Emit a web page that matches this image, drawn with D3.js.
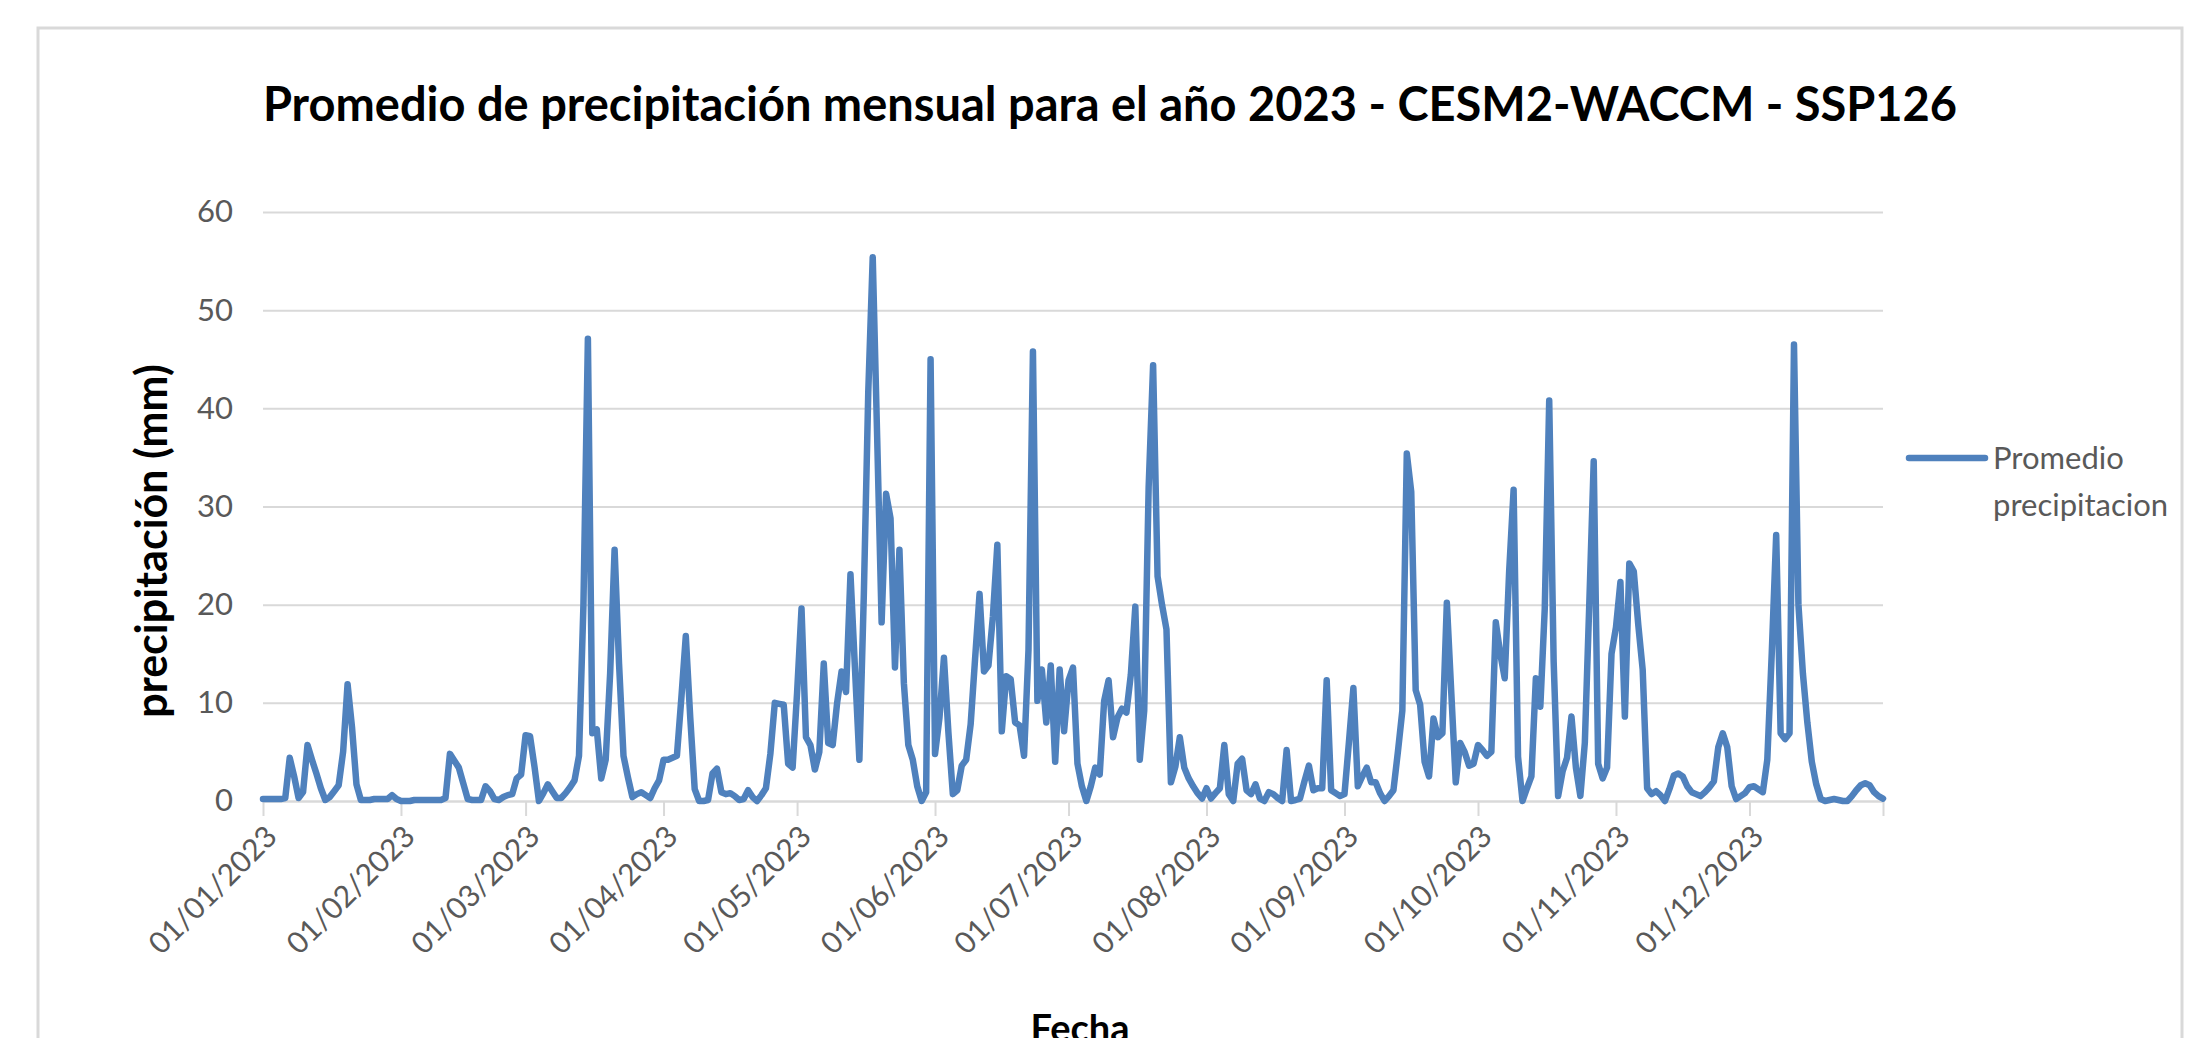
<!DOCTYPE html>
<html>
<head>
<meta charset="utf-8">
<script src="https://cdn.jsdelivr.net/npm/d3@7"></script>
<style>
	body { margin: 0; background: #fff; }
	text { font-family: Lato, "Open Sans", sans-serif; }
</style>
</head>
<body>
<svg id="chart"></svg>
<script>
// daily average precipitation (mm), one array per month of 2023
const jan = [0.2, 0.2, 0.2, 0.2, 0.2, 0.3, 4.4, 2.5, 0.3, 0.9, 5.7, 4.2, 2.8, 1.3, 0.1, 0.4, 1.0, 1.6, 5.0, 11.9, 7.5, 1.7, 0.1, 0.1, 0.1, 0.2, 0.2, 0.2, 0.2, 0.6, 0.2];
const feb = [0.0, 0.0, 0.0, 0.1, 0.1, 0.1, 0.1, 0.1, 0.1, 0.1, 0.3, 4.8, 4.1, 3.4, 1.8, 0.2, 0.1, 0.1, 0.1, 1.5, 1.0, 0.2, 0.1, 0.4, 0.6, 0.7, 2.3, 2.7];
const mar = [6.7, 6.6, 3.5, 0.0, 0.8, 1.7, 1.0, 0.3, 0.3, 0.8, 1.4, 2.1, 4.6, 20, 47.1, 6.9, 7.3, 2.3, 4.2, 13, 25.6, 14, 4.6, 2.4, 0.4, 0.7, 0.9, 0.6, 0.3, 1.3, 2.1];
const apr = [4.2, 4.2, 4.4, 4.6, 10.5, 16.8, 8.5, 1.2, 0.0, 0.0, 0.1, 2.8, 3.3, 0.9, 0.7, 0.8, 0.5, 0.1, 0.2, 1.1, 0.4, 0.0, 0.6, 1.3, 4.8, 10.0, 9.9, 9.8, 3.8, 3.4];
const may = [11, 19.6, 6.5, 5.7, 3.2, 5.0, 14.0, 5.9, 5.7, 10.0, 13.2, 11.1, 23.1, 13.6, 4.2, 21, 41.7, 55.4, 37, 18.2, 31.3, 28.8, 13.6, 25.6, 12, 5.7, 4.2, 1.5, 0.0, 0.9, 45.0];
const jun = [4.8, 8.5, 14.6, 7, 0.7, 1.1, 3.6, 4.2, 7.8, 14.5, 21.1, 13.2, 13.8, 18.8, 26.1, 7.1, 12.7, 12.4, 8.0, 7.7, 4.6, 15.4, 45.8, 10.2, 13.4, 8.0, 13.8, 4.0, 13.4, 7.1];
const jul = [12.3, 13.6, 3.8, 1.5, 0.0, 1.5, 3.4, 2.7, 10.2, 12.3, 6.5, 8.5, 9.4, 9.0, 12.9, 19.8, 4.2, 9.2, 32, 44.4, 22.9, 20, 17.5, 1.9, 3.5, 6.5, 3.4, 2.3, 1.5, 0.8, 0.25];
const aug = [1.3, 0.25, 0.8, 1.3, 5.7, 0.7, 0.0, 3.8, 4.3, 1.1, 0.7, 1.7, 0.25, 0.0, 0.9, 0.7, 0.3, 0.0, 5.2, 0.0, 0.1, 0.25, 2.0, 3.6, 1.1, 1.3, 1.3, 12.3, 1.1, 0.8, 0.5];
const sep = [0.7, 6.0, 11.5, 1.5, 2.5, 3.4, 1.9, 1.9, 0.8, 0.0, 0.5, 1.1, 5.0, 9.2, 35.4, 31.5, 11.3, 9.8, 4.0, 2.5, 8.4, 6.5, 6.9, 20.2, 11, 1.9, 5.9, 5.0, 3.6, 3.8];
const oct = [5.7, 5.2, 4.6, 5.0, 18.2, 15, 12.5, 23.4, 31.7, 4.5, 0.0, 1.3, 2.5, 12.5, 9.6, 19.6, 40.8, 14.2, 0.5, 3.0, 4.4, 8.6, 3.4, 0.5, 5.9, 20, 34.6, 3.8, 2.3, 3.4, 15];
const nov = [17.7, 22.3, 8.6, 24.2, 23.4, 18, 13.4, 1.3, 0.7, 1.0, 0.6, 0.0, 1.2, 2.6, 2.8, 2.5, 1.5, 0.9, 0.7, 0.5, 0.9, 1.4, 2.0, 5.5, 6.9, 5.5, 1.5, 0.2, 0.5, 0.8];
const dec = [1.4, 1.5, 1.2, 0.9, 4.2, 15, 27.1, 6.9, 6.3, 6.9, 46.5, 20, 13, 8, 4, 1.7, 0.2, 0.0, 0.1, 0.2, 0.1, 0.0, 0.0, 0.5, 1.1, 1.6, 1.8, 1.6, 0.9, 0.5, 0.25];

const months = [jan, feb, mar, apr, may, jun, jul, aug, sep, oct, nov, dec];
const startDate = "01/01/2023";
const xTickLabels = ["01/01/2023", "01/02/2023", "01/03/2023", "01/04/2023", "01/05/2023", "01/06/2023",
	"01/07/2023", "01/08/2023", "01/09/2023", "01/10/2023", "01/11/2023", "01/12/2023"];
const yTicks = [0, 10, 20, 30, 40, 50, 60];
const titleText = "Promedio de precipitación mensual para el año 2023 - CESM2-WACCM - SSP126";
const yTitle = "precipitación (mm)";
const xTitle = "Fecha";
const legendLines = ["Promedio", "precipitacion"];

const totalWidth = 2203;
const totalHeight = 1038;
const margin = { left: 263, right: 320, top: 212, bottom: 237 };
const plotWidth = totalWidth - margin.left - margin.right;
const plotHeight = totalHeight - margin.top - margin.bottom;
const lineColor = "#4f81bd";
const gridColor = "#d9d9d9";
const labelColor = "#595959";

const parseDate = d3.timeParse("%d/%m/%Y");
const fmtDate = d3.timeFormat("%d/%m/%Y");
const day0 = parseDate(startDate);
const data = months.flat().map((v, i) => ({ date: d3.timeDay.offset(day0, i), value: v }));
const lastDate = data[data.length - 1].date;

const xAxis = d3.scaleTime().domain([day0, lastDate]).range([0, plotWidth]);
const yAxis = d3.scaleLinear().domain([0, d3.max(yTicks)]).range([plotHeight, 0]);

const svg = d3.select("#chart").attr("width", totalWidth).attr("height", totalHeight);

// chart frame
svg.append("rect")
	.attr("x", 38)
	.attr("y", 28)
	.attr("width", 2144)
	.attr("height", 1100)
	.attr("fill", "#fff")
	.attr("stroke", gridColor)
	.attr("stroke-width", 3);

svg.append("text")
	.attr("x", 1110)
	.attr("y", 121)
	.attr("text-anchor", "middle")
	.attr("font-size", 47)
	.attr("font-weight", "bold")
	.attr("fill", "#000")
	.text(titleText);

const graphArea = svg.append("g").attr("transform", "translate(" + margin.left + "," + margin.top + ")");

// horizontal gridlines + y labels
const yG = graphArea.append("g")
	.call(d3.axisLeft(yAxis).tickValues(yTicks).tickSize(-plotWidth).tickPadding(30));
yG.select(".domain").remove();
yG.selectAll(".tick line").attr("stroke", gridColor).attr("stroke-width", 2);
yG.selectAll(".tick text")
	.attr("fill", labelColor)
	.attr("font-size", 31)
	.attr("font-family", "Lato, sans-serif");

// x axis with month ticks
const tickDates = xTickLabels.map(parseDate).concat([lastDate]);
const xG = graphArea.append("g")
	.attr("transform", "translate(0," + plotHeight + ")")
	.call(d3.axisBottom(xAxis)
		.tickValues(tickDates)
		.tickSize(15)
		.tickSizeOuter(0)
		.tickFormat((d) => (xTickLabels.includes(fmtDate(d)) ? fmtDate(d) : "")));
xG.select(".domain").attr("stroke", gridColor).attr("stroke-width", 2);
xG.selectAll(".tick line").attr("stroke", gridColor).attr("stroke-width", 2);
xG.selectAll(".tick text")
	.attr("fill", labelColor)
	.attr("font-size", 30)
	.attr("font-family", "Lato, sans-serif")
	.attr("text-anchor", "end")
	.attr("x", 0)
	.attr("y", 0)
	.attr("dy", "0.35em")
	.attr("transform", "translate(8,30) rotate(-45)");

const line = d3.line()
	.x((d) => xAxis(d.date))
	.y((d) => yAxis(d.value));

graphArea.append("path")
	.datum(data)
	.attr("fill", "none")
	.attr("stroke", lineColor)
	.attr("stroke-width", 6.5)
	.attr("stroke-linejoin", "round")
	.attr("stroke-linecap", "round")
	.attr("d", line);

// axis titles
svg.append("text")
	.attr("transform", "translate(167,541) rotate(-90)")
	.attr("text-anchor", "middle")
	.attr("font-size", 43)
	.attr("font-weight", "bold")
	.attr("fill", "#000")
	.text(yTitle);

svg.append("text")
	.attr("x", 1080)
	.attr("y", 1042)
	.attr("text-anchor", "middle")
	.attr("font-size", 38)
	.attr("font-weight", "bold")
	.attr("fill", "#000")
	.text(xTitle);

// legend
const legend = svg.append("g").attr("transform", "translate(1909,458)");
legend.append("line")
	.attr("x1", 0)
	.attr("x2", 76)
	.attr("stroke", lineColor)
	.attr("stroke-width", 6.5)
	.attr("stroke-linecap", "round");
legend.append("text")
	.attr("x", 84)
	.attr("y", 11)
	.attr("font-size", 31)
	.attr("fill", labelColor)
	.selectAll("tspan")
	.data(legendLines)
	.join("tspan")
	.attr("x", 84)
	.attr("dy", (d, i) => (i === 0 ? 0 : 47))
	.text((d) => d);
</script>
</body>
</html>
